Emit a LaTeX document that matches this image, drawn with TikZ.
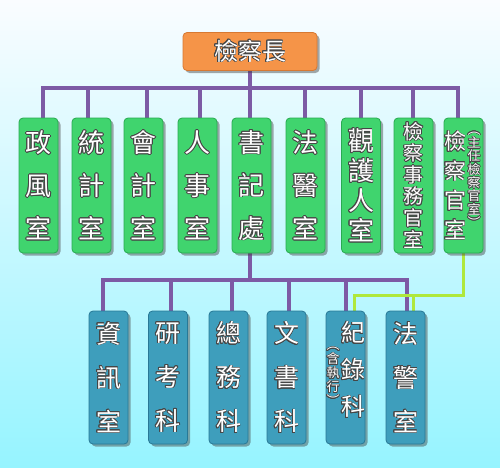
\documentclass[tikz,border=0pt]{standalone}
\usepackage{fontspec}
\newfontfamily\cjk{Noto Sans CJK TC}
\usepackage[copies]{contour}
\contourlength{0.6pt}
\contournumber{16}
\usetikzlibrary{shadows,calc}
\pgfdeclarelayer{bg}
\pgfdeclarelayer{lines}
\pgfsetlayers{bg,lines,main}
\definecolor{bgtop}{RGB}{250,252,255}
\definecolor{bgbot}{RGB}{150,244,255}
\definecolor{orgfill}{RGB}{245,148,72}
\definecolor{orgedge}{RGB}{215,120,50}
\definecolor{grnfill}{RGB}{64,212,110}
\definecolor{grnedge}{RGB}{40,170,80}
\definecolor{bluefill}{RGB}{62,158,188}
\definecolor{blueedge}{RGB}{40,120,150}
\definecolor{purp}{RGB}{125,90,165}
\definecolor{lime}{RGB}{175,232,60}
\definecolor{txtedge}{RGB}{70,70,70}
\newcommand\ct[1]{\contour{txtedge}{#1}}
\begin{document}
\begin{tikzpicture}[x=1pt,y=-1pt,
  box/.style={rounded corners=4pt, minimum width=39pt, line width=0.8pt, inner sep=0pt,
    text=white, align=center,
    drop shadow={shadow xshift=2.5pt,shadow yshift=-2.5pt,opacity=0.45,fill=black!75}},
  gbox/.style={box, fill=grnfill, draw=grnedge, minimum height=135pt},
  bbox/.style={box, fill=bluefill, draw=blueedge, minimum height=133pt},
  vt/.style={text=white, align=center, inner sep=0pt},
  conn/.style={draw=purp, line width=3.5pt, line cap=rect},
  gconn/.style={draw=lime, line width=3pt, line cap=rect}]
\useasboundingbox (0,0) rectangle (500,467);
\begin{pgfonlayer}{bg}
\shade[top color=bgtop, bottom color=bgbot] (0,0) rectangle (500,467);
\end{pgfonlayer}

% top
\node[box, fill=orgfill, draw=orgedge, minimum width=134pt, minimum height=38pt,
  font=\cjk\fontsize{24}{26}\selectfont] (top) at (250,51.5) {\ct{檢察長}};

% row 1
\node[gbox, font=\cjk\fontsize{26}{43}\selectfont] (b1) at (38.5,185.5) {\ct{政}\\\ct{風}\\\ct{室}};
\node[gbox, font=\cjk\fontsize{26}{43}\selectfont] (b2) at (91.5,185.5) {\ct{統}\\\ct{計}\\\ct{室}};
\node[gbox, font=\cjk\fontsize{26}{43}\selectfont] (b3) at (143.5,185.5) {\ct{會}\\\ct{計}\\\ct{室}};
\node[gbox, font=\cjk\fontsize{26}{43}\selectfont] (b4) at (197.5,185.5) {\ct{人}\\\ct{事}\\\ct{室}};
\node[gbox, font=\cjk\fontsize{26}{43}\selectfont] (b5) at (251.5,185.5) {\ct{書}\\\ct{記}\\\ct{處}};
\node[gbox, font=\cjk\fontsize{26}{43}\selectfont] (b6) at (305.5,185.5) {\ct{法}\\\ct{醫}\\\ct{室}};
\node[gbox, font=\cjk\fontsize{26}{30}\selectfont] (b7) at (361,185.5) {\ct{觀}\\\ct{護}\\\ct{人}\\\ct{室}};
\node[gbox, font=\cjk\fontsize{20}{21.6}\selectfont] (b8) at (413.5,185.5) {\ct{檢}\\\ct{察}\\\ct{事}\\\ct{務}\\\ct{官}\\\ct{室}};
\node[gbox] (b9) at (463.5,185.5) {};
\node[vt, font=\cjk\fontsize{22}{29.5}\selectfont] (b9m) at ([xshift=-8.5pt]b9.center) {\ct{檢}\\\ct{察}\\\ct{官}\\\ct{室}};
\node[vt, font=\cjk\fontsize{13}{13.3}\selectfont] (b9s) at ([xshift=10.5pt,yshift=5.5pt]b9.center) {\ct{︵}\\\ct{主}\\\ct{任}\\\ct{檢}\\\ct{察}\\\ct{官}\\\ct{室}\\\ct{︶}};

% row 2
\node[bbox, font=\cjk\fontsize{25}{44}\selectfont] (rA) at (108.5,377.5) {\ct{資}\\\ct{訊}\\\ct{室}};
\node[bbox, font=\cjk\fontsize{25}{44}\selectfont] (rB) at (168,377.5) {\ct{研}\\\ct{考}\\\ct{科}};
\node[bbox, font=\cjk\fontsize{25}{44}\selectfont] (rC) at (228.5,377.5) {\ct{總}\\\ct{務}\\\ct{科}};
\node[bbox, font=\cjk\fontsize{25}{44}\selectfont] (rD) at (286.5,377.5) {\ct{文}\\\ct{書}\\\ct{科}};
\node[bbox] (rE) at (345.5,377.5) {};
\node[vt, font=\cjk\fontsize{24}{37}\selectfont] (rEm) at ([xshift=7.5pt,yshift=7.5pt]rE.center) {\ct{紀}\\\ct{錄}\\\ct{科}};
\node[vt, font=\cjk\fontsize{13}{14}\selectfont] (rEs) at ([xshift=-12.5pt,yshift=0.5pt]rE.center) {\ct{︵}\\\ct{含}\\\ct{執}\\\ct{行}\\\ct{︶}};
\node[bbox, font=\cjk\fontsize{25}{44}\selectfont] (rF) at (405.5,377.5) {\ct{法}\\\ct{警}\\\ct{室}};

% connectors
\begin{pgfonlayer}{lines}
\coordinate (busL) at (43,88);
\coordinate (busR) at (458,88);
\draw[conn] (top.south) -- (top.south |- busL);
\draw[conn] (busL) -- (busR);
\foreach \n/\dx in {b1/4.5,b2/-3.5,b3/3.5,b4/2.5,b5/-1.5,b6/-0.5,b7/0,b8/-0.5,b9/-5.5}
  \draw[conn] ([xshift=\dx pt]\n.north) -- ([xshift=\dx pt]\n.north |- busL);
\coordinate (bus2L) at (103,280);
\coordinate (bus2R) at (407,280);
\draw[conn] ([xshift=-1.5pt]b5.south) -- ([xshift=-1.5pt]b5.south |- bus2L);
\draw[conn] (bus2L) -- (bus2R);
\foreach \n/\dx in {rA/-5.5,rB/3,rC/3.5,rD/2.5,rE/0.5,rF/1.5}
  \draw[conn] ([xshift=\dx pt]\n.north) -- ([xshift=\dx pt]\n.north |- bus2L);
\coordinate (gL) at (354,295);
\draw[gconn] ([xshift=-0.5pt]b9.south) |- (gL) -- ([xshift=8.5pt]rE.north);
\draw[gconn] ([xshift=7.5pt]rF.north) -- ([xshift=7.5pt]rF.north |- gL);
\end{pgfonlayer}
\end{tikzpicture}
\end{document}
